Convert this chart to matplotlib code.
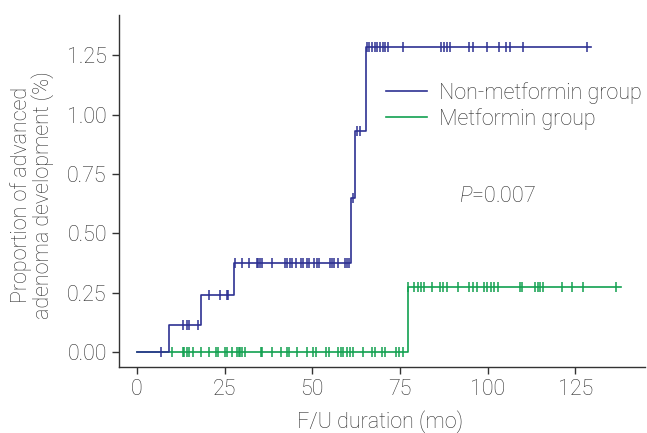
import numpy as np
import matplotlib
matplotlib.use("Agg")
import matplotlib.pyplot as plt

plt.rcParams['font.family'] = ['Roboto', 'DejaVu Sans']
plt.rcParams['mathtext.fontset'] = 'custom'
plt.rcParams['mathtext.it'] = 'Roboto:italic:light'
plt.rcParams['mathtext.rm'] = 'Roboto:light'

# Non-metformin group: step times and cumulative proportion after each step
nonmet_times = [0, 9.1, 18.2, 27.8, 60.9, 62.3, 65.3]
nonmet_levels = [0, 0.115, 0.24, 0.375, 0.65, 0.93, 1.285]
nonmet_end = 129.5
nonmet_censor = [6.8,
                 13.2, 14.2, 14.9, 17.3,
                 20.5, 23.7, 25.6, 25.9,
                 28.0, 29.9, 31.9, 34.2, 34.6, 35.1, 35.7, 38.4, 42.3, 42.9,
                 43.6, 44.3, 45.4, 46.9, 47.4, 48.4, 49.0, 50.6, 51.2, 51.9,
                 54.9, 55.5, 56.2, 57.4, 59.3, 60.0, 60.6,
                 61.6,
                 62.8, 63.6,
                 65.5, 66.3, 67.0, 67.8, 68.5, 69.3, 70.1, 70.8, 71.6, 76.0,
                 86.7, 87.6, 88.5, 89.4, 94.8, 95.7, 99.9, 103.1, 105.3, 106.4,
                 110.2, 128.4]

# Metformin group
met_times = [0, 77.2]
met_levels = [0, 0.276]
met_end = 138.0
met_censor = [9.9, 13.0, 13.5, 14.2, 14.9, 16.1, 18.2, 20.4, 22.5, 23.2,
              25.1, 25.6, 27.1, 28.6, 29.0, 29.5, 29.9, 30.8, 35.4, 35.7,
              38.4, 41.1, 42.7, 43.4, 45.5, 48.4, 50.3, 51.0, 53.8, 54.8,
              57.4, 58.1, 58.8, 59.8, 60.8, 61.7, 64.5, 66.9, 67.9, 69.8,
              70.7, 73.9, 74.8, 76.0,
              77.4, 79.1, 80.1, 80.9, 81.9, 84.1, 86.4, 87.4, 88.5, 91.6,
              94.8, 95.7, 96.9, 99.1, 99.9, 100.9, 101.8, 102.9, 109.2, 109.7,
              113.5, 114.3, 115.0, 115.9, 121.1, 124.0, 127.3, 136.6]

blue = '#2e3192'
green = '#12a150'
text_col = '#2f2f2f'
fs = 15.5

fig = plt.figure(figsize=(6.47, 4.33), dpi=100)
ax = fig.add_axes([0.1844, 0.1531, 0.8126, 0.8123])


def draw_group(times, levels, end, censor, color, label):
    t = list(times) + [end]
    y = list(levels) + [levels[-1]]
    ax.step(t, y, where='post', color=color, lw=1.2, label=label)
    idx = np.searchsorted(times, censor, side='right') - 1
    cy = np.array(levels)[idx]
    ax.plot(censor, cy, linestyle='none', marker='|', markersize=7,
            markeredgewidth=1.1, color=color)


draw_group(met_times, met_levels, met_end, met_censor, green, 'Metformin group')
draw_group(nonmet_times, nonmet_levels, nonmet_end, nonmet_censor, blue,
           'Non-metformin group')

ax.set_xlim(-5.05, 144.9)
ax.set_ylim(-0.061, 1.419)
ax.set_xticks([0, 25, 50, 75, 100, 125])
ax.set_yticks([0, 0.25, 0.5, 0.75, 1.0, 1.25])
ax.set_yticklabels(['0.00', '0.25', '0.50', '0.75', '1.00', '1.25'])

for s in ['top', 'right']:
    ax.spines[s].set_visible(False)
for s in ['left', 'bottom']:
    ax.spines[s].set_color('#333333')
    ax.spines[s].set_linewidth(1.0)
ax.tick_params(direction='out', length=5, width=1.0, color='#333333',
               labelsize=fs, labelcolor=text_col, pad=4)
for lab in ax.get_xticklabels() + ax.get_yticklabels():
    lab.set_fontweight('light')

ax.set_xlabel('F/U duration (mo)', fontsize=fs, color=text_col,
              fontweight='light')
ax.set_ylabel('Proportion of advanced\nadenoma development (%)', fontsize=fs,
              color=text_col, fontweight='light', linespacing=0.95)
ax.xaxis.set_label_coords(0.496, -0.125)
ax.yaxis.set_label_coords(-0.124, 0.488)

handles, labels = ax.get_legend_handles_labels()
leg = ax.legend(handles[::-1], labels[::-1], loc='upper left',
                bbox_to_anchor=(0.508, 0.81), frameon=False, fontsize=fs,
                handlelength=1.9, handletextpad=0.55, labelspacing=0.2,
                borderpad=0, borderaxespad=0)
for txt in leg.get_texts():
    txt.set_color(text_col)
    txt.set_fontweight('light')

ax.text(91.8, 0.655, r'$P$=0.007', fontsize=fs, color=text_col,
        fontweight='light', ha='left', va='center')

fig.savefig('out.png', dpi=100)
